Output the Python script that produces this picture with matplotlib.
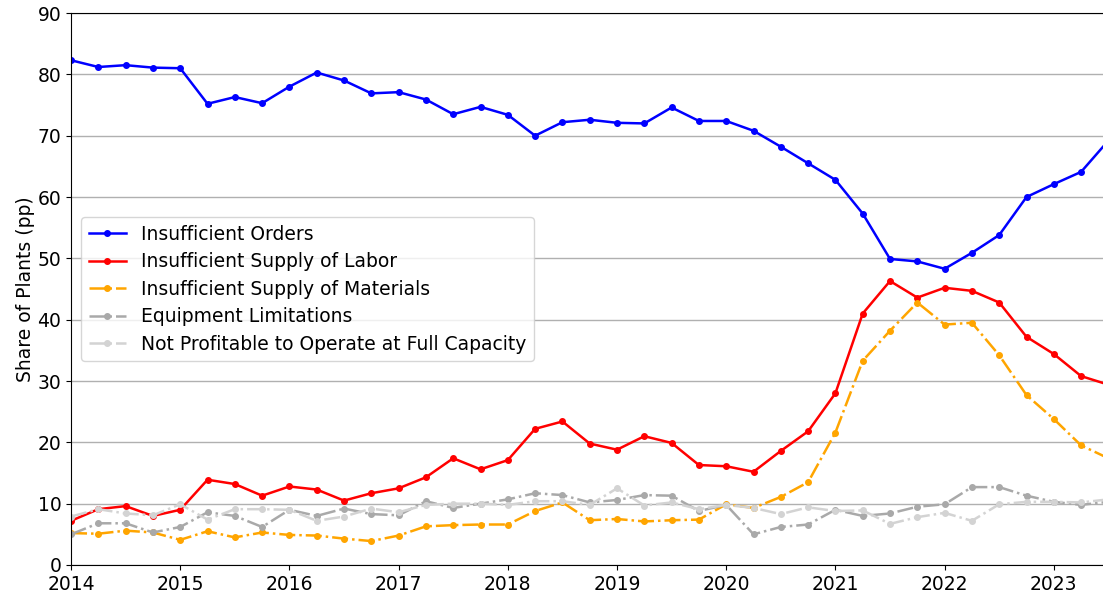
import numpy as np
import matplotlib
matplotlib.use('Agg')
import matplotlib.pyplot as plt

# quarterly observations, 2014Q1 .. 2023Q3
quarters = 2014 + np.arange(39) * 0.25

orders = [82.3, 81.2, 81.5, 81.1, 81.0, 75.2, 76.3, 75.3, 78.0, 80.3, 79.0, 76.9,
          77.1, 75.9, 73.5, 74.7, 73.4, 70.0, 72.2, 72.6, 72.1, 72.0, 74.6, 72.4,
          72.4, 70.8, 68.2, 65.5, 62.8, 57.3, 49.9, 49.5, 48.3, 50.9, 53.8, 60.0,
          62.1, 64.1, 69.2]
labor = [7.2, 9.1, 9.6, 8.0, 9.0, 13.9, 13.2, 11.3, 12.8, 12.3, 10.5, 11.7,
         12.5, 14.3, 17.4, 15.6, 17.1, 22.2, 23.4, 19.8, 18.8, 21.0, 19.9, 16.3,
         16.1, 15.2, 18.6, 21.8, 28.0, 41.0, 46.3, 43.6, 45.2, 44.7, 42.8, 37.2,
         34.4, 30.8, 29.4]
materials = [5.2, 5.1, 5.6, 5.3, 4.1, 5.5, 4.5, 5.3, 4.9, 4.8, 4.3, 3.9,
             4.8, 6.3, 6.5, 6.6, 6.6, 8.8, 10.2, 7.3, 7.5, 7.1, 7.3, 7.4,
             9.9, 9.3, 11.1, 13.5, 21.6, 33.3, 38.2, 42.8, 39.2, 39.5, 34.2, 27.7,
             23.8, 19.5, 17.4]
equipment = [5.0, 6.8, 6.8, 5.3, 6.2, 8.6, 8.0, 6.2, 9.0, 8.0, 9.2, 8.3,
             8.1, 10.4, 9.3, 10.0, 10.7, 11.7, 11.4, 10.2, 10.6, 11.4, 11.3, 8.8,
             9.8, 5.0, 6.2, 6.6, 9.0, 8.0, 8.4, 9.5, 9.9, 12.7, 12.7, 11.3,
             10.3, 9.8, 10.3]
not_profitable = [7.9, 9.1, 8.4, 8.1, 9.9, 7.4, 9.1, 9.1, 9.0, 7.2, 7.9, 9.2,
                  8.6, 9.8, 10.0, 10.0, 9.8, 10.4, 10.4, 9.8, 12.5, 9.7, 10.2, 9.1,
                  9.8, 9.3, 8.3, 9.4, 8.8, 8.9, 6.7, 7.8, 8.5, 7.2, 9.9, 10.3,
                  10.3, 10.2, 10.7]

plt.rcParams['font.size'] = 13.5

fig = plt.figure(figsize=(11.03, 5.98), dpi=100)
# axes run a little past the right edge, so the right spine is cut off
ax = fig.add_axes([0.0644, 0.0552, 0.9405, 0.923])

ax.plot(quarters, orders, '-', marker='o', ms=4, lw=1.8, color='blue', label='Insufficient Orders')
ax.plot(quarters, labor, '-', marker='o', ms=4, lw=1.8, color='red', label='Insufficient Supply of Labor')
ax.plot(quarters, materials, '-.', marker='o', ms=4, lw=1.8, color='orange', label='Insufficient Supply of Materials')
ax.plot(quarters, equipment, '-.', marker='o', ms=4, lw=1.8, color='darkgray', label='Equipment Limitations')
ax.plot(quarters, not_profitable, '-.', marker='o', ms=4, lw=1.8, color='lightgray',
        label='Not Profitable to Operate at Full Capacity')

ax.set_xlim(2014, 2023.5)
ax.set_ylim(0, 90)
ax.set_xticks(range(2014, 2024))
ax.set_yticks(range(0, 91, 10))
ax.yaxis.grid(True, color='#b0b0b0', lw=1)
ax.set_axisbelow(True)
ax.set_ylabel('Share of Plants (pp)', labelpad=2)

ax.legend(loc='upper left', bbox_to_anchor=(0.0097, 0.630), borderaxespad=0, labelspacing=0.45)

plt.savefig('out.png', dpi=100)
